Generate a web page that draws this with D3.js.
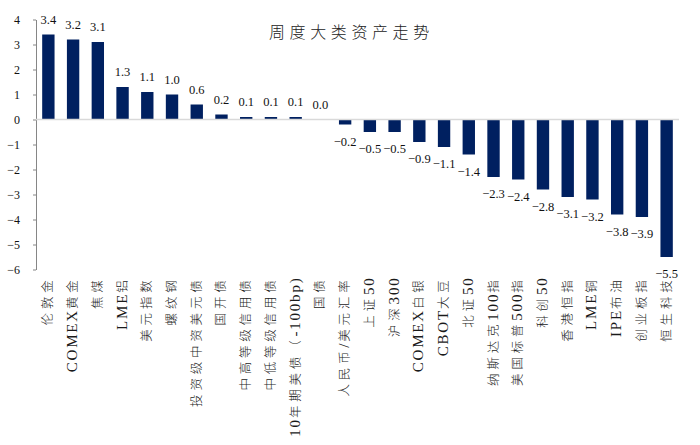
<!DOCTYPE html>
<html>
<head>
<meta charset="utf-8">
<script src="https://cdn.jsdelivr.net/npm/d3@7/dist/d3.min.js"></script>
<style>
  html, body { margin: 0; padding: 0; background: #fff; }
  svg { display: block; }
</style>
</head>
<body>
<div id="chart"></div>
<script>
const title = "周度大类资产走势";
const categories = ["伦敦金","COMEX黄金","焦煤","LME铝","美元指数","螺纹钢","投资级中资美元债","国开债","中高等级信用债","中低等级信用债","10年期美债（-100bp)","国债","人民币/美元汇率","上证50","沪深300","COMEX白银","CBOT大豆","北证50","纳斯达克100指","美国标普500指","科创50","香港恒指","LME铜","IPE布油","创业板指","恒生科技"];
const values = [3.4,3.2,3.1,1.3,1.1,1.0,0.6,0.2,0.1,0.1,0.1,0.0,-0.2,-0.5,-0.5,-0.9,-1.1,-1.4,-2.3,-2.4,-2.8,-3.1,-3.2,-3.8,-3.9,-5.5];
const yTicks = [4,3,2,1,0,-1,-2,-3,-4,-5,-6];

const W = 700, H = 445;
const svg = d3.select("#chart").append("svg").attr("width", W).attr("height", H);

const x = d3.scaleBand().domain(categories).range([36, 679]).paddingInner(0.5).paddingOuter(0.25);
const y = d3.scaleLinear().domain([-6, 4]).range([269.5, 19.5]);

const serif = "'Liberation Serif','Times New Roman',serif";
const cjk = "'Noto Sans CJK SC',sans-serif";

// title
svg.append("text")
  .attr("x", 269).attr("y", 38)
  .attr("font-family", cjk)
  .attr("font-weight", 300)
  .attr("font-size", 16)
  .attr("letter-spacing", "4.6px")
  .attr("fill", "#222")
  .text(title);

// y axis
const yAxis = d3.axisLeft(y).tickValues(yTicks).tickSize(3).tickSizeOuter(0).tickPadding(13).tickFormat(d3.format("d"));
const ga = svg.append("g").attr("transform", "translate(36,0)").call(yAxis);
ga.select(".domain").attr("stroke", "#868686");
ga.selectAll(".tick line").attr("stroke", "#868686");
ga.selectAll(".tick text").attr("font-family", serif).attr("font-size", 12).attr("fill", "#111");

// bars
const bw = x.bandwidth();
svg.append("g").selectAll("rect").data(values).join("rect")
  .attr("x", (d, i) => x(categories[i]))
  .attr("width", bw)
  .attr("y", d => y(Math.max(0, d)))
  .attr("height", d => Math.abs(y(d) - y(0)))
  .attr("fill", "#002060");

// zero line
svg.append("line")
  .attr("x1", 36).attr("x2", 679)
  .attr("y1", y(0)).attr("y2", y(0))
  .attr("stroke", "#d9d9d9").attr("stroke-width", 1.6);

// value labels
svg.append("g").selectAll("text").data(values).join("text")
  .attr("x", (d, i) => x(categories[i]) + bw / 2)
  .attr("y", d => d >= 0 ? y(d) - 11 : y(d) + 21)
  .attr("text-anchor", "middle")
  .attr("font-family", serif)
  .attr("font-size", 12.5)
  .attr("fill", "#111")
  .text(d => d3.format(".1f")(d));

// x labels (rotated), CJK and Latin runs styled separately
const cjkRe = /([\u3000-\u9fff\uff00-\uffef]+)/;
const xl = svg.append("g").selectAll("text").data(categories).join("text")
  .attr("transform", d => `translate(${x(d) + bw / 2 + 4},276.5) rotate(-90)`)
  .attr("text-anchor", "end")
  .attr("fill", "#1a1a1a");
xl.each(function(d) {
  const t = d3.select(this);
  d.split(cjkRe).filter(s => s.length).forEach(s => {
    const isC = cjkRe.test(s);
    t.append("tspan")
      .attr("font-family", isC ? cjk : serif)
      .attr("font-weight", isC ? 300 : 400)
      .attr("font-size", isC ? 12.5 : 15)
      .attr("letter-spacing", isC ? "3.8px" : "1.8px")
      .text(s);
  });
});
</script>
</body>
</html>
